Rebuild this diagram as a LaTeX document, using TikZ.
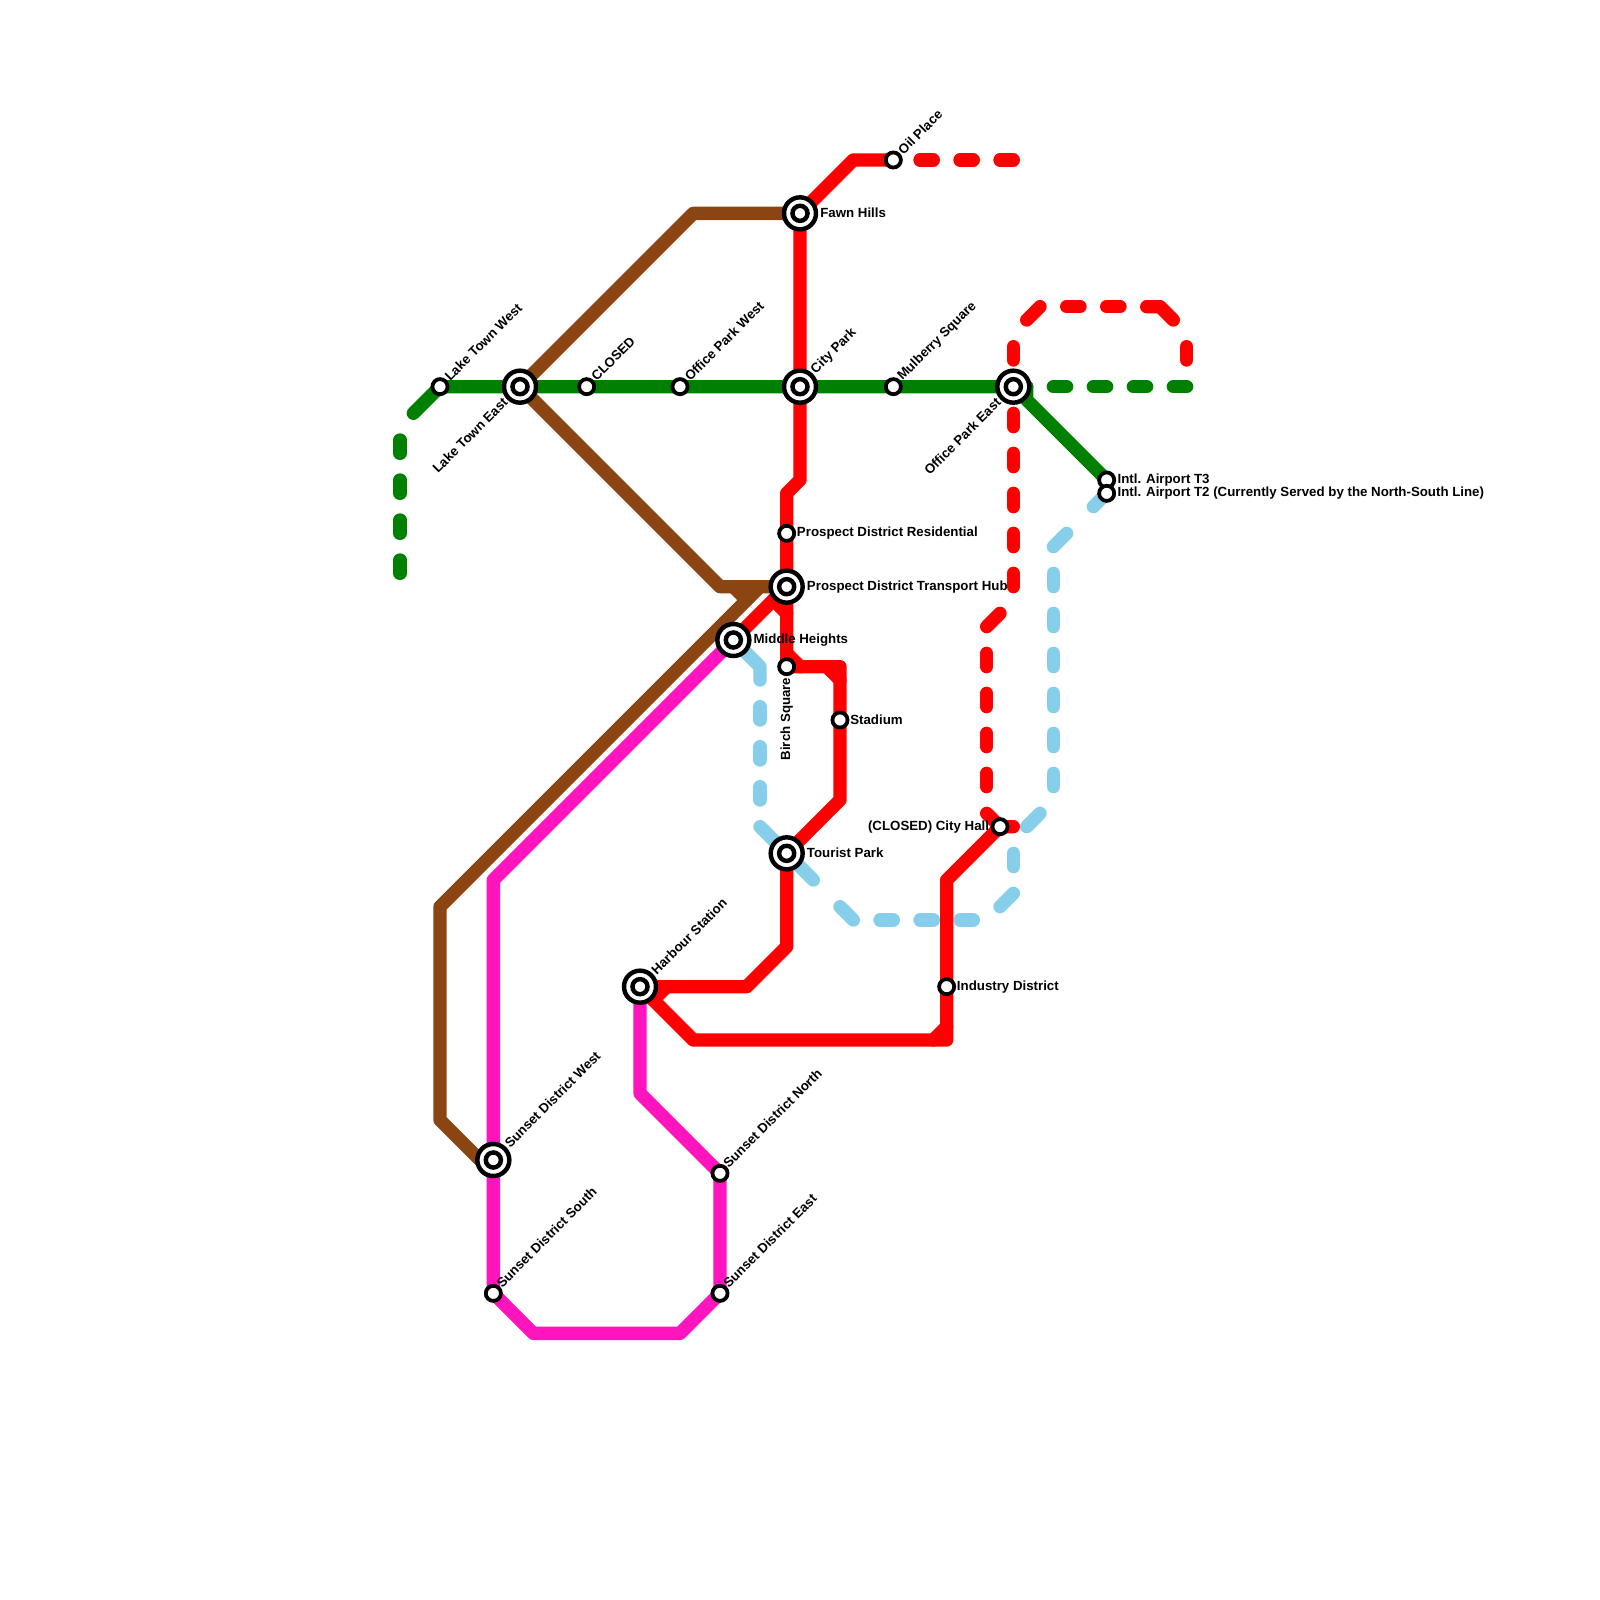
\documentclass[tikz,border=0pt]{standalone}
\usepackage{fontspec}
\setmainfont{Liberation Sans}
\usetikzlibrary{calc}
\definecolor{linegreen}{RGB}{0,128,0}
\definecolor{linebrown}{RGB}{139,69,19}
\definecolor{linepink}{RGB}{255,20,189}
\definecolor{lineblue}{RGB}{135,206,235}
\tikzset{
  track/.style={line width=0.3cm, line cap=round, line join=round},
  gap/.style={track, dash pattern=on 0.3cm off 0.6cm},
  hubring/.style={circle, draw=black, fill=white, line width=1mm, minimum size=0.72cm, inner sep=0pt},
  hubdot/.style={circle, draw=black, fill=white, line width=1mm, minimum size=0.34cm, inner sep=0pt},
  stop/.style={circle, draw=black, fill=white, line width=0.85mm, minimum size=0.34cm, inner sep=0pt},
  lbl/.style={inner sep=0pt, font=\bfseries\fontsize{8.5}{10}\selectfont},
}
\begin{document}
\begin{tikzpicture}[x=0.3cm, y=-0.3cm]
	\useasboundingbox (0,0) rectangle (120,120);

	% stations
	\coordinate (ltw) at (33,29);
	\coordinate (lte) at (39,29);
	\coordinate (closed) at (44,29);
	\coordinate (opw) at (51,29);
	\coordinate (city) at (60,29);
	\coordinate (mulberry) at (67,29);
	\coordinate (ope) at (76,29);
	\coordinate (fawn) at (60,16);
	\coordinate (oil) at (67,12);
	\coordinate (t3) at (83,36);
	\coordinate (t2) at (83,37);
	\coordinate (resid) at (59,40);
	\coordinate (hub) at (59,44);
	\coordinate (middle) at (55,48);
	\coordinate (birch) at (59,50);
	\coordinate (stadium) at (63,54);
	\coordinate (tourist) at (59,64);
	\coordinate (cityhall) at (75,62);
	\coordinate (industry) at (71,74);
	\coordinate (harbour) at (48,74);
	\coordinate (sdw) at (37,87);
	\coordinate (sds) at (37,97);
	\coordinate (sdn) at (54,88);
	\coordinate (sde) at (54,97);

	% light blue line
	\draw[track, lineblue] (middle) -- (57,50) -- (57,51);
	\draw[gap, lineblue] (57,53) -- (57,60);
	\draw[track, lineblue] (57,62) -- (tourist) -- (61,66);
	\draw[track, lineblue] (63,68) -- (64,69);
	\draw[gap, lineblue] (66,69) -- (73,69);
	\draw[track, lineblue] (75,68) -- (76,67);
	\draw[track, lineblue] (76,65) -- (76,64);
	\draw[track, lineblue] (77,62) -- (78,61);
	\draw[gap, lineblue] (79,59) -- (79,43);
	\draw[track, lineblue] (79,41) -- (80,40);
	\draw[track, lineblue] (82,38) -- (t2);

	% green line
	\draw[gap, linegreen] (30,33) -- (30,43);
	\draw[track, linegreen] (31,31) -- (ltw) -- (lte) -- (closed) -- (opw) -- (city) -- (mulberry) -- (ope) -- (77,29) -- (77,30) -- (t3);
	\draw[gap, linegreen] (ope) -- (89,29);

	% brown line
	\draw[track, linebrown] (lte) -- (52,16) -- (fawn);
	\draw[track, linebrown] (lte) -- (54,44) -- (hub);
	\draw[track, linebrown] (57,44) -- (33,68) -- (33,84) -- (36,87) -- (sdw);
	\draw[track, linebrown] (55,44) -- (56,45);

	% pink line
	\draw[track, linepink] (middle) -- (37,66) -- (sdw) -- (sds) -- (40,100) -- (51,100) -- (sde) -- (sdn) -- (48,82) -- (harbour);

	% red line
	\draw[track, red] (oil) -- (64,12) -- (fawn) -- (city) -- (60,36) -- (59,37) -- (resid) -- (hub) -- (birch) -- (63,50) -- (stadium) -- (63,60) -- (tourist) -- (59,71) -- (56,74) -- (harbour) -- (52,78) -- (71,78) -- (industry) -- (71,66) -- (cityhall) -- (76,62);
	\draw[track, red] (middle) -- (hub);
	\draw[track, red] (58,45) -- (59,46);
	\draw[track, red] (59,49) -- (60,50);
	\draw[track, red] (62,50) -- (63,51);
	\draw[track, red] (49,75) -- (50,74);
	\draw[track, red] (70,78) -- (71,77);
	\draw[gap, red] (69,12) -- (76,12);
	\draw[track, red] (89,27) -- (89,26);
	\draw[track, red] (88,24) -- (87,23) -- (86,23);
	\draw[gap, red] (84,23) -- (80,23);
	\draw[track, red] (78,23) -- (77,24);
	\draw[track, red] (76,26) -- (76,27);
	\draw[gap, red] (76,31) -- (76,44);
	\draw[track, red] (75,46) -- (74,47);
	\draw[gap, red] (74,49) -- (74,59);
	\draw[track, red] (74,61) -- (cityhall);

	% stations on top
	\foreach \name in {lte,city,ope,fawn,hub,middle,tourist,harbour,sdw} {
		\node[hubring] (\name ring) at (\name) {};
		\node[hubdot] (\name dot) at (\name) {};
	}
	\foreach \name in {ltw,closed,opw,mulberry,oil,t3,t2,resid,birch,stadium,cityhall,industry,sds,sdn,sde} {
		\node[stop] (\name stop) at (\name) {};
	}

	% labels
	\node[lbl, rotate=45, anchor=west] (ltwtext) at ($(ltw)+(0.5,-0.6)$) {Lake Town West};
	\node[lbl, rotate=45, anchor=east] (ltetext) at ($(lte)+(-1.1,1.0)$) {Lake Town East};
	\node[lbl, rotate=45, anchor=west] (closedtext) at ($(closed)+(0.5,-0.6)$) {CLOSED};
	\node[lbl, rotate=45, anchor=west] (opwtext) at ($(opw)+(0.5,-0.6)$) {Office Park West};
	\node[lbl, rotate=45, anchor=west] (citytext) at ($(city)+(1,-1.1)$) {City Park};
	\node[lbl, rotate=45, anchor=west] (mulberrytext) at ($(mulberry)+(0.5,-0.6)$) {Mulberry Square};
	\node[lbl, rotate=45, anchor=east] (opetext) at ($(ope)+(-1.1,1.0)$) {Office Park East};
	\node[lbl, anchor=west] (fawntext) at ($(fawn)+(1.5,-0.05)$) {Fawn Hills};
	\node[lbl, rotate=45, anchor=west] (oiltext) at ($(oil)+(0.5,-0.6)$) {Oil Place};
	\node[lbl, anchor=west] (t3text) at ($(t3)+(0.8,0)$) {Intl. Airport T3};
	\node[lbl, anchor=west] (t2text) at ($(t2)+(0.8,0)$) {Intl. Airport T2 (Currently Served by the North-South Line)};
	\node[lbl, anchor=west] (residtext) at ($(resid)+(0.75,0)$) {Prospect District Residential};
	\node[lbl, anchor=west] (hubtext) at ($(hub)+(1.5,0)$) {Prospect District Transport Hub};
	\node[lbl, anchor=west] (middletext) at ($(middle)+(1.5,0)$) {Middle Heights};
	\node[lbl, rotate=90, anchor=east] (birchtext) at ($(birch)+(0,0.8)$) {Birch Square};
	\node[lbl, anchor=west] (stadiumtext) at ($(stadium)+(0.75,0)$) {Stadium};
	\node[lbl, anchor=west] (touristtext) at ($(tourist)+(1.5,-0.05)$) {Tourist Park};
	\node[lbl, anchor=east] (cityhalltext) at ($(cityhall)+(-0.8,0)$) {(CLOSED) City Hall};
	\node[lbl, anchor=west] (industrytext) at ($(industry)+(0.75,0)$) {Industry District};
	\node[lbl, rotate=45, anchor=west] (harbourtext) at ($(harbour)+(1,-1.1)$) {Harbour Station};
	\node[lbl, rotate=45, anchor=west] (sdwtext) at ($(sdw)+(1,-1.1)$) {Sunset District West};
	\node[lbl, rotate=45, anchor=west] (sdstext) at ($(sds)+(0.4,-0.6)$) {Sunset District South};
	\node[lbl, rotate=45, anchor=west] (sdntext) at ($(sdn)+(0.4,-0.6)$) {Sunset District North};
	\node[lbl, rotate=45, anchor=west] (sdetext) at ($(sde)+(0.4,-0.6)$) {Sunset District East};
\end{tikzpicture}
\end{document}
